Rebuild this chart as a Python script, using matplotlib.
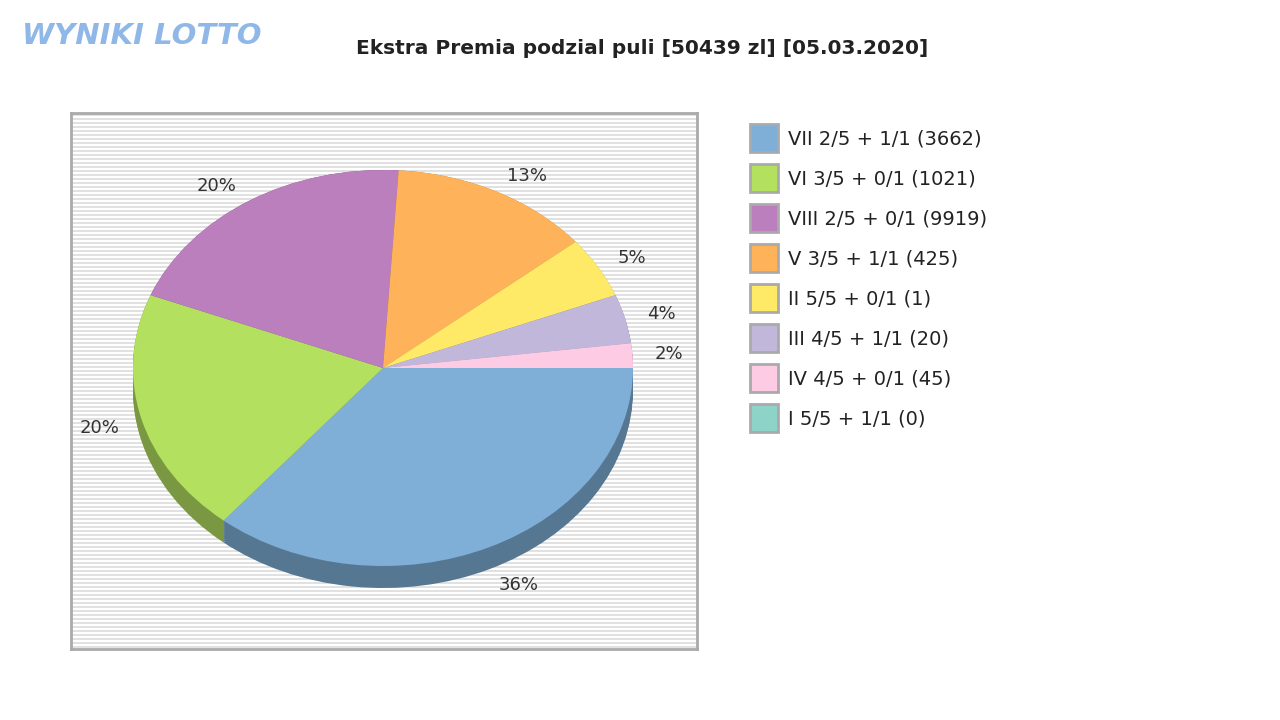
import matplotlib
matplotlib.use("Agg")
import matplotlib.pyplot as plt
from matplotlib.patches import Rectangle
import numpy as np

labels = ["VII 2/5 + 1/1 (3662)", "VI 3/5 + 0/1 (1021)", "VIII 2/5 + 0/1 (9919)",
          "V 3/5 + 1/1 (425)", "II 5/5 + 0/1 (1)", "III 4/5 + 1/1 (20)",
          "IV 4/5 + 0/1 (45)", "I 5/5 + 1/1 (0)"]
shares = [36, 20, 20, 13, 5, 4, 2, 0]
colors = ["#7fafd6", "#b3e05f", "#bb7fbd", "#feb25a", "#feea66", "#c0b7da", "#fecbe5", "#8ed3c7"]

W, H = 1280, 720
fig = plt.figure(figsize=(12.8, 7.2), dpi=100)
cx, cy, rx, ry = 383, 368, 250, 198
ax = fig.add_axes([71/W, (720-649)/H, 626/W, 536/H])
for yp in range(115, 649, 4):
    ax.axhline((cy-yp)/ry, color="#dcdcdc", lw=1.2, zorder=0)
ax.set_facecolor("white")

vals = [v if v > 0 else 1e-9 for v in shares]
dark = [tuple(c*0.68 for c in matplotlib.colors.to_rgb(col)) for col in colors]
depth = 22/ry
for d in np.linspace(depth, 0.0, 12):
    ax.pie(vals, colors=dark, startangle=0, counterclock=False, center=(0, -d),
           radius=1, frame=True, wedgeprops=dict(linewidth=0))
_, texts = ax.pie(vals, colors=colors, startangle=0, counterclock=False, center=(0, 0),
       radius=1, frame=True, wedgeprops=dict(linewidth=0),
       labels=[f"{v}%" if v > 0 else "" for v in shares], labeldistance=1.09,
       textprops=dict(fontsize=13, color="#333333"))
for t in texts:
    x, y = t.get_position()
    if y < 0:
        t.set_position((x, y - depth * (-y)))
ax.set_aspect('auto')
ax.set_xlim((71-cx)/rx, (697-cx)/rx)
ax.set_ylim(-(649-cy)/ry, (cy-113)/ry)
ax.set_xticks([]); ax.set_yticks([])
for s in ax.spines.values():
    s.set_visible(True); s.set_color("#aaaaaa"); s.set_linewidth(2)

fig.text(642/W, 1-48/H, "Ekstra Premia podzial puli [50439 zl] [05.03.2020]",
         ha="center", va="center", fontsize=14.5, fontweight="bold", color="#222222")
fig.text(22/W, 1-36/H, "WYNIKI LOTTO", ha="left", va="center", fontsize=21,
         fontweight="bold", color="#8fb8e8", style="italic")

for i, (lab, col) in enumerate(zip(labels, colors)):
    y = 138 + 40*i
    fig.patches.append(Rectangle(((750)/W, 1-(y+14)/H), 28/W, 28/H, transform=fig.transFigure,
                                 facecolor=col, edgecolor="#aaaaaa", lw=2))
    fig.text(788/W, 1-(y+1)/H, lab, ha="left", va="center", fontsize=14, color="#222222")

fig.savefig("out.png", dpi=100)
